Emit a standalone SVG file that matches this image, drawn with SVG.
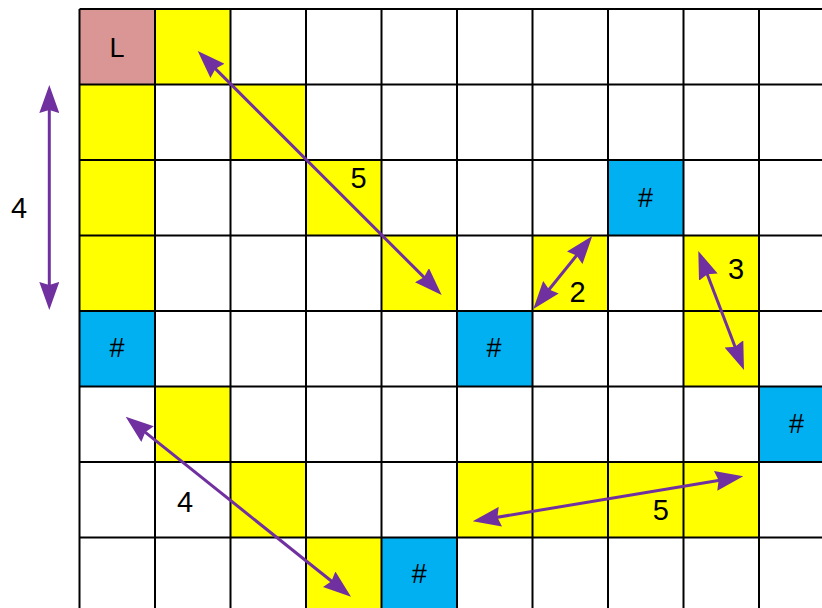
<svg xmlns="http://www.w3.org/2000/svg" width="822" height="608" viewBox="0 0 822 608">
<defs>
<style>
.y{fill:#FFFF00}
.b{fill:#00B0F0}
.l{fill:#DA9694}
.t{font-family:"Liberation Sans",Arial,sans-serif;fill:#000;text-anchor:middle}
.h{font-size:27px}
.k{font-size:27px}
.n{font-size:29px}
.g{stroke:#000;stroke-width:2;fill:none}
.a{stroke:#7030A0;stroke-width:3;fill:none;marker-start:url(#ah);marker-end:url(#ah)}
</style>
<marker id="ah" viewBox="0 0 28 20" refX="18" refY="10" markerWidth="28" markerHeight="20" markerUnits="userSpaceOnUse" orient="auto-start-reverse">
<path d="M0,0 L28,10 L0,20 L3,10 z" fill="#7030A0"/>
</marker>
</defs>
<rect width="822" height="608" fill="#fff"/>
<g id="cells">
<g id="start"><rect class="l" x="79.5" y="9" width="75.5" height="75.5"/><text class="t k" x="117" y="57">L</text></g>
<g id="path-cells">
<rect class="y" x="155" y="9" width="75.5" height="75.5"/>
<rect class="y" x="79.5" y="84.5" width="75.5" height="226.5"/>
<rect class="y" x="230.5" y="84.5" width="75.5" height="75.5"/>
<rect class="y" x="306" y="160" width="75.5" height="75.5"/>
<rect class="y" x="381.5" y="235.5" width="75.5" height="75.5"/>
<rect class="y" x="532.5" y="235.5" width="75.5" height="75.5"/>
<rect class="y" x="683.5" y="235.5" width="75.5" height="151"/>
<rect class="y" x="155" y="386.5" width="75.5" height="75.5"/>
<rect class="y" x="230.5" y="462" width="75.5" height="75.5"/>
<rect class="y" x="306" y="537.5" width="75.5" height="75.5"/>
<rect class="y" x="457" y="462" width="302" height="75.5"/>
</g>
<g id="block1"><rect class="b" x="79.5" y="311" width="75.5" height="75.5"/><text class="t h" x="117" y="357">#</text></g>
<g id="block2"><rect class="b" x="608" y="160" width="75.5" height="75.5"/><text class="t h" x="645.5" y="207">#</text></g>
<g id="block3"><rect class="b" x="457" y="311" width="75.5" height="75.5"/><text class="t h" x="494" y="357">#</text></g>
<g id="block4"><rect class="b" x="759" y="386.5" width="75.5" height="75.5"/><text class="t h" x="796.5" y="432.5">#</text></g>
<g id="block5"><rect class="b" x="381.5" y="537.5" width="75.5" height="75.5"/><text class="t h" x="419.3" y="582.5">#</text></g>
</g>
<g id="grid" class="g">
<path d="M79.5,9V608M155,9V608M230.5,9V608M306,9V608M381.5,9V608M457,9V608M532.5,9V608M608,9V608M683.5,9V608M759,9V608"/>
<path d="M79.5,9H822M79.5,84.5H822M79.5,160H822M79.5,235.5H822M79.5,311H822M79.5,386.5H822M79.5,462H822M79.5,537.5H822"/>
</g>
<g id="connectors">
<line class="a" x1="204.8" y1="58.1" x2="434.6" y2="287.9"/>
<line class="a" x1="49.3" y1="95" x2="49.3" y2="300"/>
<line class="a" x1="539.6" y1="301.2" x2="586" y2="243.8"/>
<line class="a" x1="701.9" y1="260.3" x2="740.4" y2="360.7"/>
<line class="a" x1="133.5" y1="422.9" x2="343.2" y2="590.5"/>
<line class="a" x1="482.6" y1="519.7" x2="733.4" y2="477.9"/>
</g>
<g id="labels">
<text class="t n" x="358.5" y="188.3">5</text>
<text class="t n" x="19" y="218">4</text>
<text class="t n" x="577.5" y="301.7">2</text>
<text class="t n" x="736" y="279">3</text>
<text class="t n" x="185" y="512.3">4</text>
<text class="t n" x="660.7" y="520">5</text>
</g>
</svg>
